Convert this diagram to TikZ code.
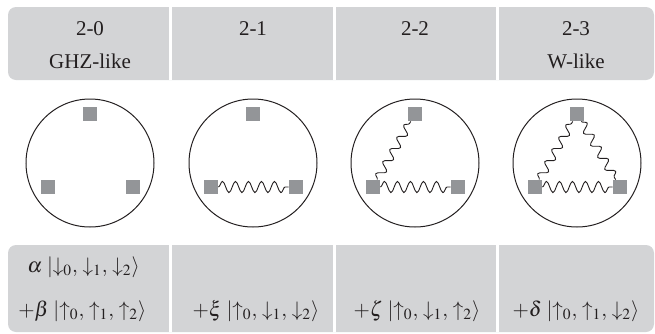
\documentclass[tikz,border=0pt]{standalone}
\usepackage{mathptmx}
\usepackage{fontspec}
\setmainfont{Liberation Serif}
\usetikzlibrary{decorations.pathmorphing}
\definecolor{wsband}{HTML}{D3D4D6}
\definecolor{wssite}{HTML}{939598}
\definecolor{wsink} {HTML}{231F20}
\tikzset{
  wsbandbox/.style={fill=wsband, rounded corners=4pt},
  wssep/.style={draw=white, line width=1.5pt},
  wstext/.style={font=\fontsize{10.5}{12}\selectfont, text=wsink, inner sep=0pt, anchor=base},
  wsring/.style={circle, draw=wsink, line width=0.5pt, minimum size=64pt, inner sep=0pt},
  wssitebox/.style={fill=wssite, minimum size=7pt, inner sep=0pt},
  wsbond/.style={draw=wsink, line width=0.45pt, decorate,
                 decoration={snake, segment length=6.5pt, amplitude=2.8pt}},
  wsbondthin/.style={wsbond, decoration={snake, segment length=7pt, amplitude=2.1pt}},
}
\newcommand{\wsket}[4]{$#1\;|{#2_0},\,{#3_1},\,{#4_2}\rangle$}
\begin{document}
\begin{tikzpicture}[x=0.5pt,y=-0.5pt]
  \useasboundingbox (0,0) rectangle (655,333);
  % bands
  \fill[wsbandbox] (8,7) rectangle (654,80);
  \fill[wsbandbox] (8,245) rectangle (654,332);
  \foreach \x in {170,334,497} {
    \draw[wssep] (\x,7) -- (\x,80);
    \draw[wssep] (\x,245) -- (\x,332);
  }

  % header
  \foreach \i/\x in {0/90,1/253,2/415,3/576}
    \node[wstext] (h\i) at (\x,35) {2-\i};
  \node[wstext] (k0) at (90,68) {GHZ-like};
  \node[wstext] (k3) at (576,68) {W-like};

  % rings and sites
  \foreach \i/\x in {0/90,1/253,2/415,3/577} {
    \node[wsring] (c\i) at (\x,163) {};
    \node[wssitebox] (t\i) at (\x,114) {};
    \node[wssitebox] (l\i) at (\x-42,187) {};
    \node[wssitebox] (r\i) at (\x+43,187) {};
  }
  \draw[wsbond] (l1) -- (r1);
  \draw[wsbond] (l2) -- (r2);
  \draw[wsbondthin] (l2) -- (t2);
  \draw[wsbond] (l3) -- (r3);
  \draw[wsbondthin] (l3) -- (t3);
  \draw[wsbondthin] (t3) -- (r3);

  % states
  \node[wstext,anchor=base west] (s0a) at (27,272) {\wsket{\alpha}{\downarrow}{\downarrow}{\downarrow}};
  \node[wstext,anchor=base west] (s0) at (18,316) {\wsket{+\beta}{\uparrow}{\uparrow}{\uparrow}};
  \node[wstext] (s1) at (256,316) {\wsket{+\xi}{\uparrow}{\downarrow}{\downarrow}};
  \node[wstext] (s2) at (417,316) {\wsket{+\zeta}{\uparrow}{\downarrow}{\uparrow}};
  \node[wstext] (s3) at (576,316) {\wsket{+\delta}{\uparrow}{\uparrow}{\downarrow}};
\end{tikzpicture}
\end{document}
